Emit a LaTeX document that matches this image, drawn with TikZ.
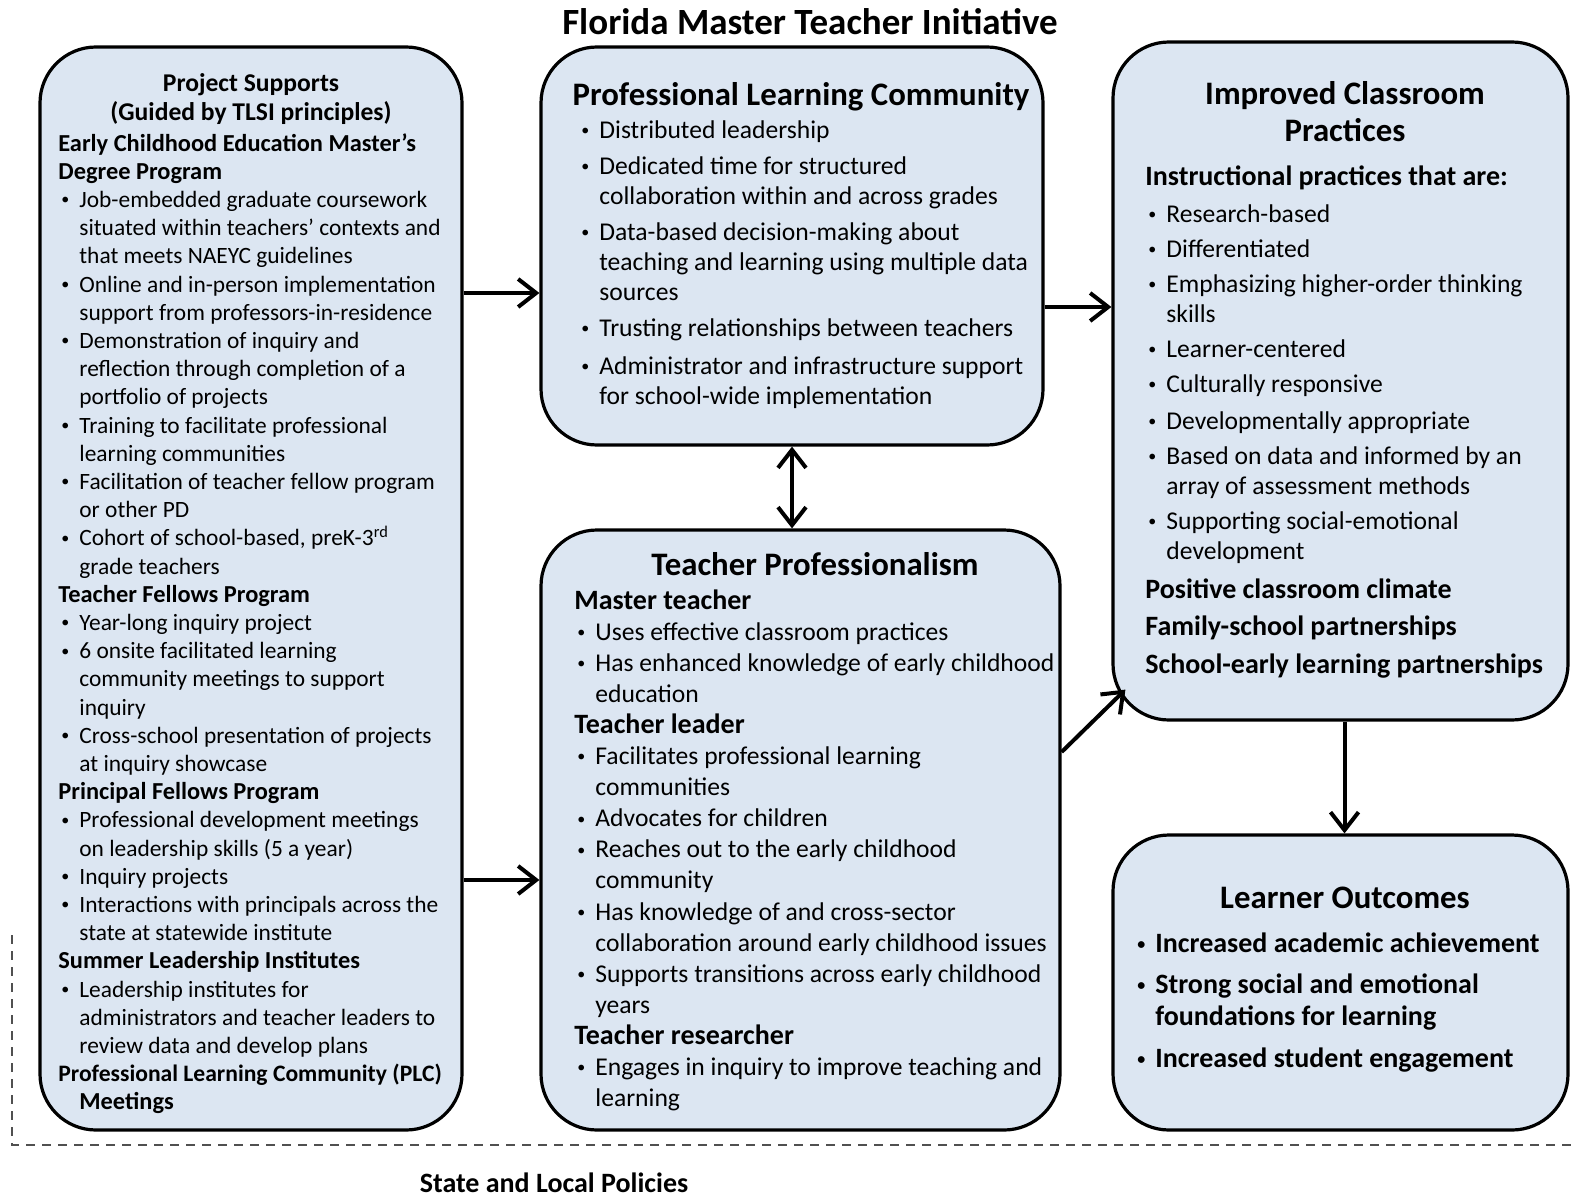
\documentclass[tikz,border=0pt]{standalone}
\usepackage{fontspec}
\setmainfont{Carlito}
\usetikzlibrary{fit,calc,arrows.meta}

\definecolor{boxblue}{HTML}{DCE6F2}
\definecolor{frameline}{HTML}{505050}

\tikzset{
    box/.style={draw=black, fill=boxblue, line width=1.6pt, rounded corners=28pt, inner sep=0pt},
    txt/.style={anchor=north west, inner sep=0pt, align=left},
    boxhead/.style={inner sep=0pt, align=center, font=\fontsize{16.4}{18.5}\selectfont\bfseries},
    arr/.style={line width=2pt, -{Straight Barb[length=9pt,width=14pt]}},
}

% bullet, hanging indent and bold sub-headings
\newcommand{\bl}{\hspace*{1.5pt}\makebox[9pt][l]{\raisebox{1.3pt}{\fontsize{8}{8}\selectfont\textbullet}}}
\newcommand{\hg}{\hspace*{10.5pt}}
\newcommand{\hb}[2][14]{{\fontsize{#1}{10}\selectfont\bfseries #2}}

\begin{document}
\begin{tikzpicture}[x=0.5pt, y=-0.5pt]  % pixel-like units, y grows downward

    \useasboundingbox (0,0) rectangle (1572,1198);

    % title
    \node[boxhead, font=\fontsize{18.5}{20}\selectfont\bfseries] (title) at (810,22) {Florida Master Teacher Initiative};

    % the five rounded boxes
    \node[box, fit={(40,47) (462,1130)}] (supports) {};
    \node[box, fit={(541,47) (1043,445)}] (plc) {};
    \node[box, fit={(541,530) (1060,1130)}] (prof) {};
    \node[box, fit={(1113,42) (1568,720)}] (practice) {};
    \node[box, fit={(1113,835) (1568,1130)}] (outcome) {};

    % policy frame (dashed)
    \draw[frameline, line width=1.2pt, dashed, dash pattern=on 4.5pt off 3.5pt] (12,935) -- (12,1145) -- (1572,1145);
    \node[font=\fontsize{14}{16}\selectfont\bfseries] (policy) at (554,1183) {State and Local Policies};

    % project supports
    \node[font=\fontsize{12.8}{14.5}\selectfont\bfseries, align=center, inner sep=0pt] (supportsHead) at (251,99)
        {Project Supports\\(Guided by TLSI principles)};
    \node[txt, font=\fontsize{11.7}{14.1}\selectfont] (supportsText) at (58,133) {%
        \hb[12.2]{Early Childhood Education Master's}\\
        \hb[12.2]{Degree Program}\\
        \bl Job-embedded graduate coursework\\
        \hg situated within teachers' contexts and\\
        \hg that meets NAEYC guidelines\\
        \bl Online and in-person implementation\\
        \hg support from professors-in-residence\\
        \bl Demonstration of inquiry and\\
        \hg reflection through completion of a\\
        \hg portfolio of projects\\
        \bl Training to facilitate professional\\
        \hg learning communities\\
        \bl Facilitation of teacher fellow program\\
        \hg or other PD\\
        \bl Cohort of school-based, preK-3\textsuperscript{rd}\\
        \hg grade teachers\\
        \hb[12.2]{Teacher Fellows Program}\\
        \bl Year-long inquiry project\\
        \bl 6 onsite facilitated learning\\
        \hg community meetings to support\\
        \hg inquiry\\
        \bl Cross-school presentation of projects\\
        \hg at inquiry showcase\\
        \hb[12.2]{Principal Fellows Program}\\
        \bl Professional development meetings\\
        \hg on leadership skills (5 a year)\\
        \bl Inquiry projects\\
        \bl Interactions with principals across the\\
        \hg state at statewide institute\\
        \hb[12.2]{Summer Leadership Institutes}\\
        \bl Leadership institutes for\\
        \hg administrators and teacher leaders to\\
        \hg review data and develop plans\\
        \hb[11.8]{Professional Learning Community (PLC)}\\
        \hg\hb[12.2]{Meetings}};

    % professional learning community
    \node[boxhead] (plcHead) at (801,97) {Professional Learning Community};
    \node[txt, font=\fontsize{12.8}{15}\selectfont] (plcText) at (578,120) {%
        \bl Distributed leadership\\[3.2pt]
        \bl Dedicated time for structured\\
        \hg collaboration within and across grades\\[3pt]
        \bl Data-based decision-making about\\
        \hg teaching and learning using multiple data\\
        \hg sources\\[3pt]
        \bl Trusting relationships between teachers\\[4pt]
        \bl Administrator and infrastructure support\\
        \hg for school-wide implementation};

    % teacher professionalism
    \node[boxhead] (profHead) at (815,564) {Teacher Professionalism};
    \node[txt, font=\fontsize{12.8}{15.55}\selectfont] (profText) at (574,589) {%
        \hb{Master teacher}\\
        \bl Uses effective classroom practices\\
        \bl Has enhanced knowledge of early childhood\\
        \hg education\\
        \hb{Teacher leader}\\
        \bl Facilitates professional learning\\
        \hg communities\\
        \bl Advocates for children\\
        \bl Reaches out to the early childhood\\
        \hg community\\
        \bl Has knowledge of and cross-sector\\
        \hg collaboration around early childhood issues\\
        \bl Supports transitions across early childhood\\
        \hg years\\
        \hb{Teacher researcher}\\
        \bl Engages in inquiry to improve teaching and\\
        \hg learning};

    % improved classroom practices
    \node[boxhead] (practiceHead) at (1345,112) {Improved Classroom\\Practices};
    \node[txt, font=\fontsize{12.8}{15}\selectfont] (practiceText) at (1145,165) {%
        \hb{Instructional practices that are:}\\[3.5pt]
        \bl Research-based\\[2.5pt]
        \bl Differentiated\\[2.5pt]
        \bl Emphasizing higher-order thinking\\
        \hg skills\\[2.5pt]
        \bl Learner-centered\\[2.5pt]
        \bl Culturally responsive\\[3.5pt]
        \bl Developmentally appropriate\\[2.5pt]
        \bl Based on data and informed by an\\
        \hg array of assessment methods\\[2.5pt]
        \bl Supporting social-emotional\\
        \hg development\\[4.5pt]
        \hb{Positive classroom climate}\\[3.5pt]
        \hb{Family-school partnerships}\\[4pt]
        \hb{School-early learning partnerships}};

    % learner outcomes
    \node[boxhead] (outcomeHead) at (1345,898) {Learner Outcomes};
    \node[txt, font=\fontsize{14}{16}\selectfont\bfseries] (outcomeText) at (1134,932) {%
        \bl Increased academic achievement\\[4.5pt]
        \bl Strong social and emotional\\
        \hg foundations for learning\\[5pt]
        \bl Increased student engagement};

    % connectors
    \draw[arr] (supports.east |- 0,293) -- (plc.west |- 0,293);
    \draw[arr] (supports.east |- 0,880) -- (prof.west |- 0,880);
    \draw[arr] (plc.east |- 0,307) -- (practice.west |- 0,307);
    \draw[arr, {Straight Barb[length=9pt,width=14pt]}-{Straight Barb[length=9pt,width=14pt]}] (plc.south) -- (plc.south |- prof.north);
    \draw[arr] (prof.east |- 0,752) -- ($(practice.south west)+(14,-32)$);
    \draw[arr] ($(practice.south)+(4,0)$) -- ($(outcome.north)+(4,0)$);

\end{tikzpicture}
\end{document}
